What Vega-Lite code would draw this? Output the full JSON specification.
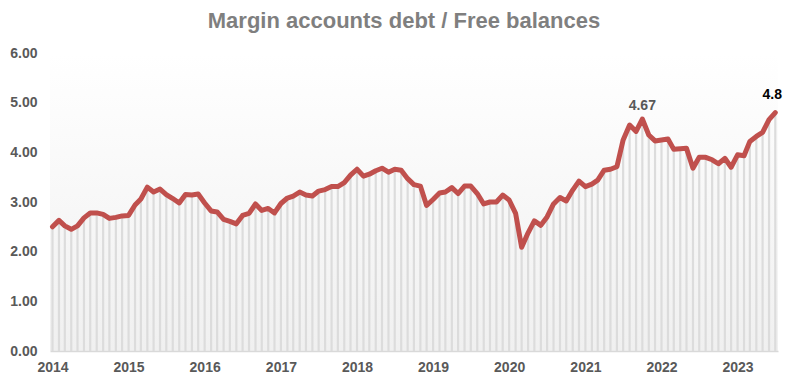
{
  "$schema": "https://vega.github.io/schema/vega-lite/v6.json",
  "width": 728,
  "height": 298,
  "autosize": {"type": "none"},
  "padding": {"left": 50, "top": 53, "right": 31, "bottom": 31},
  "background": "white",
  "title": {
    "text": "Margin accounts debt / Free balances",
    "font": "Liberation Sans",
    "fontSize": 22,
    "fontWeight": "bold",
    "color": "#7f7f7f",
    "anchor": "middle",
    "dx": -10,
    "offset": 13
  },
  "config": {
    "view": {
      "stroke": null,
      "fill": {
        "gradient": "linear",
        "x1": 0, "y1": 0, "x2": 0, "y2": 1,
        "stops": [{"offset": 0, "color": "#ffffff"}, {"offset": 1, "color": "#f0f0f0"}]
      }
    },
    "axis": {
      "labelFont": "Liberation Sans",
      "labelFontSize": 14,
      "labelFontWeight": "bold",
      "labelColor": "#595959",
      "ticks": false,
      "tickSize": 0,
      "grid": false,
      "title": null
    }
  },
  "data": {
    "values": [
      {"date": "2014/01/01", "value": 2.50}, {"date": "2014/02/01", "value": 2.63}, {"date": "2014/03/01", "value": 2.52},
      {"date": "2014/04/01", "value": 2.45}, {"date": "2014/05/01", "value": 2.52}, {"date": "2014/06/01", "value": 2.68},
      {"date": "2014/07/01", "value": 2.78}, {"date": "2014/08/01", "value": 2.78}, {"date": "2014/09/01", "value": 2.75},
      {"date": "2014/10/01", "value": 2.67}, {"date": "2014/11/01", "value": 2.69}, {"date": "2014/12/01", "value": 2.72},
      {"date": "2015/01/01", "value": 2.73}, {"date": "2015/02/01", "value": 2.94}, {"date": "2015/03/01", "value": 3.06},
      {"date": "2015/04/01", "value": 3.30}, {"date": "2015/05/01", "value": 3.20}, {"date": "2015/06/01", "value": 3.26},
      {"date": "2015/07/01", "value": 3.15}, {"date": "2015/08/01", "value": 3.07}, {"date": "2015/09/01", "value": 2.98},
      {"date": "2015/10/01", "value": 3.15}, {"date": "2015/11/01", "value": 3.14}, {"date": "2015/12/01", "value": 3.16},
      {"date": "2016/01/01", "value": 2.98}, {"date": "2016/02/01", "value": 2.82}, {"date": "2016/03/01", "value": 2.80},
      {"date": "2016/04/01", "value": 2.65}, {"date": "2016/05/01", "value": 2.61}, {"date": "2016/06/01", "value": 2.56},
      {"date": "2016/07/01", "value": 2.73}, {"date": "2016/08/01", "value": 2.77}, {"date": "2016/09/01", "value": 2.96},
      {"date": "2016/10/01", "value": 2.83}, {"date": "2016/11/01", "value": 2.87}, {"date": "2016/12/01", "value": 2.78},
      {"date": "2017/01/01", "value": 2.97}, {"date": "2017/02/01", "value": 3.08}, {"date": "2017/03/01", "value": 3.12},
      {"date": "2017/04/01", "value": 3.20}, {"date": "2017/05/01", "value": 3.14}, {"date": "2017/06/01", "value": 3.12},
      {"date": "2017/07/01", "value": 3.22}, {"date": "2017/08/01", "value": 3.25}, {"date": "2017/09/01", "value": 3.31},
      {"date": "2017/10/01", "value": 3.31}, {"date": "2017/11/01", "value": 3.39}, {"date": "2017/12/01", "value": 3.54},
      {"date": "2018/01/01", "value": 3.66}, {"date": "2018/02/01", "value": 3.52}, {"date": "2018/03/01", "value": 3.56},
      {"date": "2018/04/01", "value": 3.63}, {"date": "2018/05/01", "value": 3.68}, {"date": "2018/06/01", "value": 3.60},
      {"date": "2018/07/01", "value": 3.66}, {"date": "2018/08/01", "value": 3.64}, {"date": "2018/09/01", "value": 3.47},
      {"date": "2018/10/01", "value": 3.35}, {"date": "2018/11/01", "value": 3.32}, {"date": "2018/12/01", "value": 2.93},
      {"date": "2019/01/01", "value": 3.05}, {"date": "2019/02/01", "value": 3.18}, {"date": "2019/03/01", "value": 3.20},
      {"date": "2019/04/01", "value": 3.29}, {"date": "2019/05/01", "value": 3.17}, {"date": "2019/06/01", "value": 3.32},
      {"date": "2019/07/01", "value": 3.32}, {"date": "2019/08/01", "value": 3.17}, {"date": "2019/09/01", "value": 2.96},
      {"date": "2019/10/01", "value": 3.00}, {"date": "2019/11/01", "value": 3.00}, {"date": "2019/12/01", "value": 3.14},
      {"date": "2020/01/01", "value": 3.04}, {"date": "2020/02/01", "value": 2.77}, {"date": "2020/03/01", "value": 2.09},
      {"date": "2020/04/01", "value": 2.38}, {"date": "2020/05/01", "value": 2.62}, {"date": "2020/06/01", "value": 2.53},
      {"date": "2020/07/01", "value": 2.70}, {"date": "2020/08/01", "value": 2.96}, {"date": "2020/09/01", "value": 3.09},
      {"date": "2020/10/01", "value": 3.02}, {"date": "2020/11/01", "value": 3.24}, {"date": "2020/12/01", "value": 3.42},
      {"date": "2021/01/01", "value": 3.31}, {"date": "2021/02/01", "value": 3.36}, {"date": "2021/03/01", "value": 3.44},
      {"date": "2021/04/01", "value": 3.64}, {"date": "2021/05/01", "value": 3.66}, {"date": "2021/06/01", "value": 3.71},
      {"date": "2021/07/01", "value": 4.25}, {"date": "2021/08/01", "value": 4.55}, {"date": "2021/09/01", "value": 4.42},
      {"date": "2021/10/01", "value": 4.67}, {"date": "2021/11/01", "value": 4.35}, {"date": "2021/12/01", "value": 4.23},
      {"date": "2022/01/01", "value": 4.25}, {"date": "2022/02/01", "value": 4.27}, {"date": "2022/03/01", "value": 4.06},
      {"date": "2022/04/01", "value": 4.07}, {"date": "2022/05/01", "value": 4.08}, {"date": "2022/06/01", "value": 3.68},
      {"date": "2022/07/01", "value": 3.90}, {"date": "2022/08/01", "value": 3.90}, {"date": "2022/09/01", "value": 3.85},
      {"date": "2022/10/01", "value": 3.77}, {"date": "2022/11/01", "value": 3.88}, {"date": "2022/12/01", "value": 3.70},
      {"date": "2023/01/01", "value": 3.95}, {"date": "2023/02/01", "value": 3.93}, {"date": "2023/03/01", "value": 4.22},
      {"date": "2023/04/01", "value": 4.32}, {"date": "2023/05/01", "value": 4.40}, {"date": "2023/06/01", "value": 4.66},
      {"date": "2023/07/01", "value": 4.80}
    ]
  },
  "encoding": {
    "x": {
      "field": "date",
      "type": "temporal",
      "scale": {"domain": [{"year": 2013, "month": 12, "date": 20}, {"year": 2023, "month": 7, "date": 14}]},
      "axis": {
        "format": "%Y",
        "tickCount": {"interval": "year", "step": 1},
        "domainColor": "#d9d9d9",
        "domainWidth": 1.5,
        "labelPadding": 9,
        "labelFlush": false
      }
    },
    "y": {
      "field": "value",
      "type": "quantitative",
      "scale": {"domain": [0, 6]},
      "axis": {
        "values": [0, 1, 2, 3, 4, 5, 6],
        "format": ".2f",
        "domain": false,
        "labelPadding": 13
      }
    }
  },
  "layer": [
    {
      "mark": {"type": "rule", "color": "#dcdcdc", "strokeWidth": 2.2},
      "encoding": {"y2": {"datum": 0}}
    },
    {
      "mark": {"type": "line", "color": "#c0504d", "strokeWidth": 5, "strokeJoin": "round", "strokeCap": "round"}
    },
    {
      "transform": [{"filter": "datum.value == 4.67"}],
      "mark": {"type": "text", "font": "Liberation Sans", "fontSize": 14, "fontWeight": "bold", "color": "#595959", "dy": -13, "baseline": "middle"},
      "encoding": {"text": {"field": "value", "type": "quantitative", "format": ".2f"}}
    },
    {
      "transform": [{"filter": "datum.value == 4.8"}],
      "mark": {"type": "text", "font": "Liberation Sans", "fontSize": 14, "fontWeight": "bold", "color": "#000000", "dy": -18, "dx": -3, "baseline": "middle"},
      "encoding": {"text": {"field": "value", "type": "quantitative", "format": ".1f"}}
    }
  ]
}
